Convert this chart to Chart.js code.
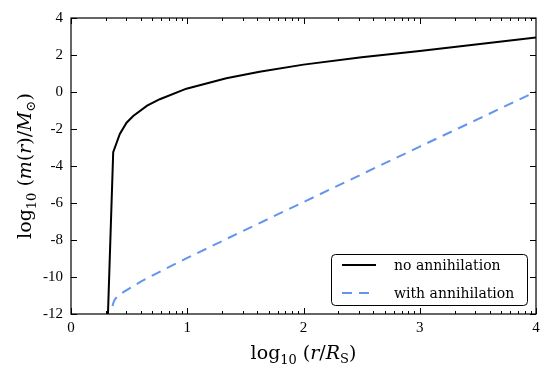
<!DOCTYPE html>
<html>
<head>
<meta charset="utf-8">
<script src="https://cdn.jsdelivr.net/npm/chart.js@4/dist/chart.umd.min.js"></script>
<style>
html,body{margin:0;padding:0;background:#fff;}
#wrap{width:553px;height:375px;position:relative;}
</style>
</head>
<body>
<div id="wrap"><canvas id="c" width="553" height="375"></canvas></div>
<script>
// ---- data ----
const noAnnX = [0.318, 0.363, 0.42, 0.478, 0.535, 0.655, 0.764, 0.993, 1.336, 1.622, 2.0, 2.5, 3.0, 3.5, 4.0];
const noAnnY = [-12.0, -3.25, -2.27, -1.66, -1.30, -0.74, -0.39, 0.18, 0.74, 1.10, 1.48, 1.88, 2.22, 2.58, 2.94];
const withAnnX = [0.357, 0.365, 0.378, 0.40, 0.45, 0.60, 0.80, 1.0, 1.5, 2.0, 2.5, 3.0, 3.5, 4.0];
const withAnnY = [-11.57, -11.38, -11.2, -11.05, -10.82, -10.25, -9.6, -8.97, -7.45, -5.95, -4.45, -2.95, -1.47, 0.02];
const seriesLabels = ["no annihilation", "with annihilation"];
const xTickValues = [0, 1, 2, 3, 4];
const yTickValues = [-12, -10, -8, -6, -4, -2, 0, 2, 4];

const toPts = (xs, ys) => xs.map((x, i) => ({x: x, y: ys[i]}));
const SERIF = '"Liberation Serif", "DejaVu Serif", serif';
const WSERIF = '"DejaVu Serif", "Liberation Serif", serif';

const framePlugin = {
  id: 'frame',
  afterDatasetsDraw(chart) {
    const {ctx, chartArea: a, scales: {x, y}} = chart;
    ctx.save();
    ctx.strokeStyle = '#000';
    ctx.lineWidth = 1.2;
    ctx.strokeRect(a.left, a.top, a.right - a.left, a.bottom - a.top);
    ctx.lineWidth = 1;
    ctx.beginPath();
    for (let d = 0; d < 4; d++) {
      for (let m = 1; m <= 9; m++) {
        const v = d + Math.log10(m);
        const px = Math.round(x.getPixelForValue(v)) + 0.5;
        const len = (m === 1) ? 6 : 3;
        ctx.moveTo(px, a.bottom); ctx.lineTo(px, a.bottom - len);
        ctx.moveTo(px, a.top); ctx.lineTo(px, a.top + len);
      }
    }
    const pxE = Math.round(x.getPixelForValue(4)) + 0.5;
    ctx.moveTo(pxE, a.bottom); ctx.lineTo(pxE, a.bottom - 6);
    yTickValues.forEach(v => {
      const py = Math.round(y.getPixelForValue(v)) + 0.5;
      ctx.moveTo(a.left, py); ctx.lineTo(a.left + 6, py);
      ctx.moveTo(a.right, py); ctx.lineTo(a.right - 6, py);
    });
    ctx.stroke();

    // legend box
    const lx = 331, ly = 254, lw = 196, lh = 51, r = 4;
    ctx.fillStyle = '#fff';
    ctx.strokeStyle = '#000';
    ctx.lineWidth = 1;
    ctx.beginPath();
    ctx.roundRect(lx + 0.5, ly + 0.5, lw, lh, r);
    ctx.fill();
    ctx.stroke();
    const ds = chart.data.datasets;
    const rows = [266, 294];
    ds.forEach((d, i) => {
      ctx.save();
      ctx.strokeStyle = d.borderColor;
      ctx.lineWidth = d.borderWidth;
      ctx.setLineDash(d.borderDash || []);
      ctx.beginPath();
      ctx.moveTo(342, rows[i] - 1); ctx.lineTo(376, rows[i] - 1);
      ctx.stroke();
      ctx.restore();
      ctx.fillStyle = '#000';
      ctx.font = '14px ' + WSERIF;
      ctx.textBaseline = 'middle';
      ctx.textAlign = 'left';
      ctx.fillText(d.label, 394, rows[i]);
    });

    const measure = (parts) => {
      let w = 0;
      parts.forEach(p => { ctx.font = p.f; w += ctx.measureText(p.t).width; });
      return w;
    };
    const render = (parts, x0, base) => {
      let cx = x0;
      parts.forEach(p => {
        ctx.font = p.f;
        ctx.fillText(p.t, cx, base + (p.dy || 0));
        cx += ctx.measureText(p.t).width;
      });
    };
    const R = '19px ' + WSERIF, I = 'italic 19px ' + WSERIF, S = '13px ' + WSERIF;
    ctx.fillStyle = '#000';
    ctx.textBaseline = 'alphabetic';
    ctx.textAlign = 'left';
    const xt = [{t:'log', f:R},{t:'10', f:S, dy:5},{t:' (', f:R},{t:'r', f:I},{t:'/', f:R},{t:'R', f:I},{t:'S', f:S, dy:4},{t:')', f:R}];
    const xw = measure(xt);
    render(xt, (a.left + a.right) / 2 - xw / 2, 359);
    const yt = [{t:'log', f:R},{t:'10', f:S, dy:5},{t:' (', f:R},{t:'m', f:I},{t:'(', f:R},{t:'r', f:I},{t:')/', f:R},{t:'M', f:I},{t:'\u2299', f:S, dy:4},{t:')', f:R}];
    const yw = measure(yt);
    ctx.save();
    ctx.translate(31, (a.top + a.bottom) / 2);
    ctx.rotate(-Math.PI / 2);
    render(yt, -yw / 2, 0);
    ctx.restore();
    ctx.restore();
  }
};

new Chart(document.getElementById('c'), {
  type: 'scatter',
  data: {
    datasets: [
      {label: seriesLabels[0], data: toPts(noAnnX, noAnnY), showLine: true, borderColor: '#000000', borderWidth: 2, pointRadius: 0, tension: 0, fill: false},
      {label: seriesLabels[1], data: toPts(withAnnX, withAnnY), showLine: true, borderColor: '#6495ED', borderWidth: 2, borderDash: [10, 7], pointRadius: 0, tension: 0, fill: false}
    ]
  },
  options: {
    responsive: false,
    animation: false,
    events: [],
    layout: {padding: {left: 0, right: 17, top: 18, bottom: 0}},
    plugins: {legend: {display: false}, tooltip: {enabled: false}},
    scales: {
      x: {
        type: 'linear', min: 0, max: 4,
        afterBuildTicks: s => { s.ticks = xTickValues.map(v => ({value: v})); },
        afterFit: s => { s.height = 61; },
        grid: {display: false, drawTicks: false},
        border: {display: false},
        ticks: {color: '#000', font: {family: SERIF, size: 15}, padding: 5, callback: v => String(v)}
      },
      y: {
        type: 'linear', min: -12, max: 4,
        afterBuildTicks: s => { s.ticks = yTickValues.map(v => ({value: v})); },
        afterFit: s => { s.width = 71; },
        grid: {display: false, drawTicks: false},
        border: {display: false},
        ticks: {color: '#000', font: {family: SERIF, size: 15}, padding: 8, callback: v => String(v)}
      }
    }
  },
  plugins: [framePlugin]
});
</script>
</body>
</html>
